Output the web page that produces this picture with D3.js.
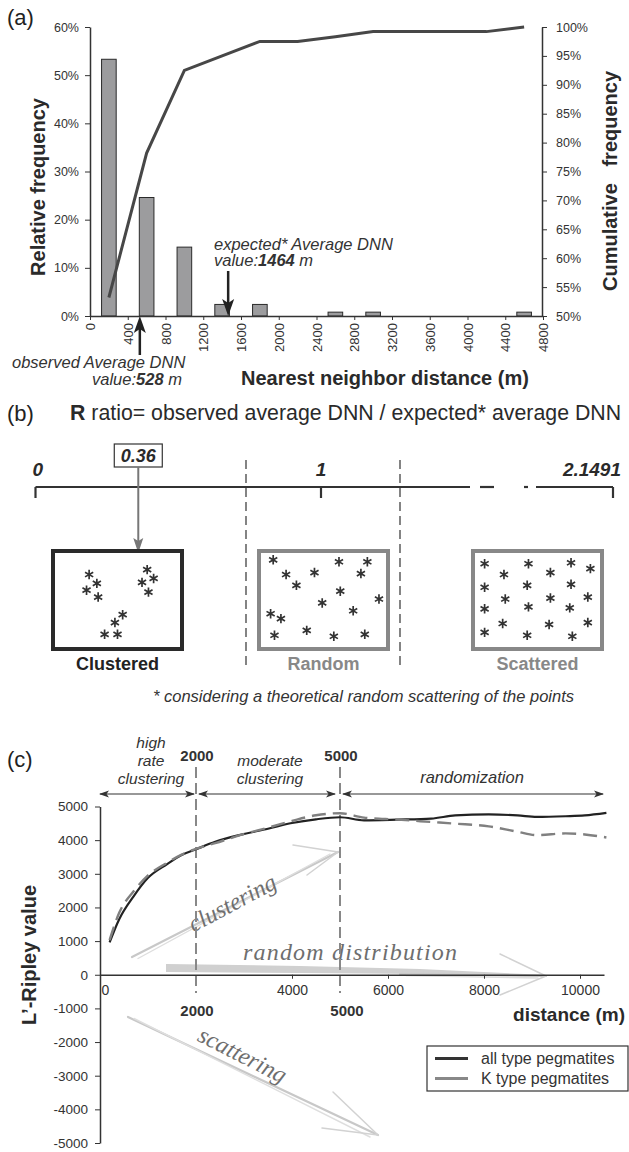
<!DOCTYPE html>
<html lang="en">
<head>
<meta charset="UTF-8">
<title>DNN histogram, R ratio and L'-Ripley</title>
<style>
  body { margin: 0; background: #fff; }
  svg { display: block; font-family: 'Liberation Sans', Arial, sans-serif; }
  .tick text { fill: #333; }
  .tick line, .domain { stroke: #333; }
</style>
</head>
<body>
<div id="chart"></div>
<script src="https://d3js.org/d3.v7.min.js"></script>
<script>
// ---- (a) nearest neighbour distance histogram
var binCenters = [200, 600, 1000, 1400, 1800, 2600, 3000, 4600];
var relFreq    = [53.3, 24.6, 14.3, 2.4, 2.4, 0.8, 0.8, 0.8];
var cumDist    = [200, 600, 1000, 1400, 1800, 2200, 2600, 3000, 3400, 3800, 4200, 4600];
var cumFreq    = [53.2, 78.2, 92.5, 95.0, 97.5, 97.5, 98.3, 99.2, 99.2, 99.2, 99.2, 100];
var distTicks  = d3.range(0, 4801, 400);
var relTicks   = [0, 10, 20, 30, 40, 50, 60];
var cumTicks   = d3.range(50, 101, 5);
var observedDNN = 528, expectedDNN = 1464;

// ---- (b) R ratio scale
var rObserved = 0.36;
var rLabels = ['0', '1', '2.1491'];
var patterns = ['Clustered', 'Random', 'Scattered'];
// star positions inside each box, as fractions of the box
var clusteredPts = [[.28,.24],[.34,.33],[.26,.40],[.35,.47],[.73,.19],[.69,.32],[.78,.28],[.74,.42],[.54,.65],[.48,.73],[.40,.85],[.50,.85]];
var randomPts = [[.11,.09],[.62,.11],[.84,.11],[.21,.24],[.43,.22],[.79,.23],[.29,.35],[.63,.41],[.93,.49],[.49,.53],[.09,.64],[.17,.69],[.73,.61],[.12,.86],[.37,.81],[.58,.87],[.82,.85]];
var scatteredPts = [[.09,.13],[.43,.13],[.76,.12],[.91,.18],[.24,.24],[.60,.22],[.09,.37],[.42,.35],[.76,.34],[.25,.49],[.60,.48],[.89,.47],[.09,.59],[.43,.57],[.75,.58],[.23,.74],[.59,.75],[.89,.73],[.09,.83],[.42,.86],[.77,.87]];

// ---- (c) L'-Ripley
var ripleyDist = [200, 400, 700, 1000, 1400, 1700, 2000, 2400, 2900, 3500, 4000, 4500, 5000, 5500, 6200, 6900, 7400, 8100, 8700, 9100, 9700, 10100, 10550];
var ripleyAll  = [960, 1650, 2330, 2880, 3290, 3560, 3730, 3950, 4150, 4340, 4510, 4620, 4680, 4590, 4610, 4640, 4735, 4765, 4735, 4690, 4710, 4735, 4810];
var ripleyK    = [1030, 1840, 2480, 2950, 3330, 3570, 3740, 3910, 4140, 4370, 4570, 4740, 4800, 4670, 4610, 4540, 4490, 4410, 4250, 4150, 4200, 4170, 4080];
var ripleyYTicks = d3.range(-5000, 5001, 1000);
var ripleyXTicks = [0, 4000, 6000, 8000, 10000];
var thresholds = [2000, 5000];
var legendNames = ['all type pegmatites', 'K type pegmatites'];

var width = 629, height = 1152;
var svg = d3.select('#chart').append('svg')
  .attr('width', width).attr('height', height);

var defs = svg.append('defs');
defs.append('marker').attr('id', 'head')
  .attr('viewBox', '0 -4 10 8').attr('refX', 9).attr('refY', 0)
  .attr('markerWidth', 10).attr('markerHeight', 8).attr('markerUnits', 'userSpaceOnUse')
  .attr('orient', 'auto-start-reverse')
  .append('path').attr('d', 'M0,-3.5L10,0L0,3.5L2.5,0Z').attr('fill', '#333');

function panelLabel(txt, x, y) {
  svg.append('text').attr('x', x).attr('y', y).attr('font-size', 22).attr('fill', '#222').text(txt);
}

// =================== (a)
panelLabel('(a)', 7, 25);
var xA = d3.scaleLinear().domain([0, 4800]).range([90, 543]);
var yA = d3.scaleLinear().domain([0, 60]).range([316, 27]);
var yCum = d3.scaleLinear().domain([50, 100]).range([316, 27]);
var barW = 155;

var gA = svg.append('g');
gA.selectAll('rect.bar').data(binCenters).enter().append('rect')
  .attr('x', function(d) { return xA(d - barW / 2); })
  .attr('width', xA(barW) - xA(0))
  .attr('y', function(d, i) { return yA(relFreq[i]); })
  .attr('height', function(d, i) { return yA(0) - yA(relFreq[i]); })
  .attr('fill', '#9c9c9e').attr('stroke', '#2a2a2a').attr('stroke-width', 1);

gA.append('path')
  .datum(cumDist)
  .attr('fill', 'none').attr('stroke', '#474747').attr('stroke-width', 3)
  .attr('d', d3.line()
    .x(function(d) { return xA(d); })
    .y(function(d, i) { return yCum(cumFreq[i]); }));

var pct = function(d) { return d + '%'; };
var axL = gA.append('g').attr('transform', 'translate(90,0)')
  .call(d3.axisLeft(yA).tickValues(relTicks).tickFormat(pct)
    .tickSize(5).tickPadding(6).tickSizeOuter(0));
axL.selectAll('text').attr('font-size', 12.5);

var axR = gA.append('g').attr('transform', 'translate(542,0)')
  .call(d3.axisRight(yCum).tickValues(cumTicks).tickFormat(pct)
    .tickSize(5).tickPadding(9).tickSizeOuter(0));
axR.selectAll('text').attr('font-size', 12.5);

var axB = gA.append('g').attr('transform', 'translate(0,316)')
  .call(d3.axisBottom(xA).tickValues(distTicks).tickFormat(function(d) { return String(d); })
    .tickSize(4).tickSizeOuter(0));
axB.selectAll('text')
  .attr('font-size', 13).attr('transform', 'rotate(-90)')
  .attr('x', -7).attr('y', 0).attr('dy', '0.35em').attr('text-anchor', 'end');
gA.selectAll('.domain').attr('stroke-width', 1.5);

gA.append('text').attr('transform', 'translate(45,187) rotate(-90)')
  .attr('text-anchor', 'middle').attr('font-size', 20).attr('font-weight', 'bold').attr('fill', '#2a2a2a')
  .text('Relative frequency');
gA.append('text').attr('transform', 'translate(617,181) rotate(-90)')
  .attr('text-anchor', 'middle').attr('font-size', 20).attr('font-weight', 'bold').attr('fill', '#2a2a2a')
  .attr('xml:space', 'preserve').style('white-space', 'pre')
  .text('Cumulative   frequency');
gA.append('text').attr('x', 241).attr('y', 385)
  .attr('font-size', 20).attr('font-weight', 'bold').attr('fill', '#2a2a2a')
  .text('Nearest neighbor distance (m)');

// DNN arrows
function dnnArrow(v, yEnd) {
  var x = xA(v), dir = yEnd < 316 ? -1 : 1;
  gA.append('line').attr('x1', x).attr('x2', x).attr('y1', yEnd).attr('y2', 316 + dir * 12)
    .attr('stroke', '#222').attr('stroke-width', 2.5);
  gA.append('path')
    .attr('d', 'M' + x + ',316L' + (x - 6) + ',' + (316 + dir * 17) + 'L' + x + ',' + (316 + dir * 13) +
      'L' + (x + 6) + ',' + (316 + dir * 17) + 'Z')
    .attr('fill', '#222');
}
dnnArrow(expectedDNN, 271);
dnnArrow(observedDNN, 355);

var ann1 = gA.append('g').attr('font-size', 16.5).attr('font-style', 'italic').attr('fill', '#333');
ann1.append('text').attr('x', 214).attr('y', 250).text('expected* Average DNN');
var t1 = ann1.append('text').attr('x', 214).attr('y', 266);
t1.append('tspan').text('value:');
t1.append('tspan').attr('font-weight', 'bold').text(expectedDNN);
t1.append('tspan').text(' m');
ann1.append('text').attr('x', 12).attr('y', 368).text('observed Average DNN');
var t2 = ann1.append('text').attr('x', 92).attr('y', 385);
t2.append('tspan').text('value:');
t2.append('tspan').attr('font-weight', 'bold').text(observedDNN);
t2.append('tspan').text(' m');

// =================== (b)
panelLabel('(b)', 7, 421);
var tb = svg.append('text').attr('x', 70).attr('y', 420).attr('font-size', 21.3).attr('fill', '#2a2a2a');
tb.append('tspan').attr('font-weight', 'bold').text('R');
tb.append('tspan').text(' ratio= observed average DNN / expected* average DNN');

var xRr = d3.scaleLinear().domain([0, 1]).range([35.5, 321]);
var rEndX = 613, lineY = 487;
var gB = svg.append('g');
// broken scale line
[[xRr(0), 470], [480, 494], [524, 528], [536, rEndX]].forEach(function(s) {
  gB.append('line').attr('x1', s[0]).attr('x2', s[1]).attr('y1', lineY).attr('y2', lineY)
    .attr('stroke', '#333').attr('stroke-width', 2.2);
});
[xRr(0), xRr(1), rEndX].forEach(function(x) {
  gB.append('line').attr('x1', x).attr('x2', x).attr('y1', lineY).attr('y2', lineY + 11)
    .attr('stroke', '#333').attr('stroke-width', 2.2);
});
var rl = gB.append('g').attr('font-size', 19).attr('font-weight', 'bold').attr('font-style', 'italic').attr('fill', '#2a2a2a');
rl.append('text').attr('x', xRr(0) - 3).attr('y', 476).text(rLabels[0]);
rl.append('text').attr('x', xRr(1)).attr('y', 476).attr('text-anchor', 'middle').text(rLabels[1]);
rl.append('text').attr('x', 621).attr('y', 476).attr('text-anchor', 'end').text(rLabels[2]);

// observed R box + arrow
var rx = xRr(rObserved);
gB.append('rect').attr('x', rx - 24).attr('y', 444).attr('width', 48).attr('height', 23)
  .attr('fill', '#fff').attr('stroke', '#333').attr('stroke-width', 1.2);
gB.append('text').attr('x', rx).attr('y', 462).attr('text-anchor', 'middle')
  .attr('font-size', 18).attr('font-weight', 'bold').attr('font-style', 'italic').attr('fill', '#2a2a2a')
  .text(rObserved.toFixed(2));
gB.append('line').attr('x1', rx).attr('x2', rx).attr('y1', 467).attr('y2', 542)
  .attr('stroke', '#777').attr('stroke-width', 2);
gB.append('path').attr('d', 'M' + rx + ',553L' + (rx - 5) + ',538L' + rx + ',541L' + (rx + 5) + ',538Z')
  .attr('fill', '#777');

// dashed separators
[246, 400].forEach(function(x) {
  gB.append('line').attr('x1', x).attr('x2', x).attr('y1', 460).attr('y2', 668)
    .attr('stroke', '#333').attr('stroke-width', 1.2).attr('stroke-dasharray', '9,5');
});

var boxes = [
  {x: 53, pts: clusteredPts, stroke: '#2a2a2a', label: '#222'},
  {x: 259, pts: randomPts, stroke: '#888', label: '#888'},
  {x: 473, pts: scatteredPts, stroke: '#888', label: '#888'}
];
var bw = 129, bh = 98, by = 551;
var star = d3.symbol().type(d3.symbolAsterisk).size(62);
boxes.forEach(function(b, i) {
  gB.append('rect').attr('x', b.x).attr('y', by).attr('width', bw).attr('height', bh)
    .attr('fill', '#fff').attr('stroke', b.stroke).attr('stroke-width', 4);
  var sx = d3.scaleLinear().domain([0, 1]).range([b.x, b.x + bw]);
  var sy = d3.scaleLinear().domain([0, 1]).range([by, by + bh]);
  gB.selectAll('path.star' + i).data(b.pts).enter().append('path')
    .attr('transform', function(d) { return 'translate(' + sx(d[0]) + ',' + sy(d[1]) + ')'; })
    .attr('d', star).attr('fill', 'none').attr('stroke', '#333').attr('stroke-width', 1.7);
  gB.append('text').attr('x', b.x + bw / 2).attr('y', 670).attr('text-anchor', 'middle')
    .attr('font-size', 18).attr('font-weight', 'bold').attr('fill', b.label).text(patterns[i]);
});
gB.append('text').attr('x', 153).attr('y', 702)
  .attr('font-size', 16.5).attr('font-style', 'italic').attr('fill', '#333')
  .text('* considering a theoretical random scattering of the points');

// =================== (c)
panelLabel('(c)', 7, 767);
var xR = d3.scaleLinear().domain([0, 10500]).range([100, 604]);
var yR = d3.scaleLinear().domain([-5000, 5000]).range([1143, 806.5]);
var gC = svg.append('g');

// sketched trend arrows
function sketch(x1, y1, x2, y2, b1, b2) {
  var g = gC.append('g').attr('stroke-linecap', 'round').attr('fill', 'none');
  g.append('line').attr('x1', x1).attr('y1', y1).attr('x2', x2).attr('y2', y2)
    .attr('stroke', '#c8c8c8').attr('stroke-width', 2.2);
  g.append('line').attr('x1', x1 + 6).attr('y1', y1 + 1.5).attr('x2', x2 - 8).attr('y2', y2 + 2)
    .attr('stroke', '#dedede').attr('stroke-width', 1.4);
  [b1, b2].forEach(function(b) {
    g.append('line').attr('x1', b[0]).attr('y1', b[1]).attr('x2', x2).attr('y2', y2)
      .attr('stroke', '#d2d2d2').attr('stroke-width', 1.5);
  });
}
sketch(132, 957, 338, 852, [293, 845], [307, 875]);
sketch(128, 1017, 378, 1135, [333, 1092], [322, 1128]);
// random band
gC.append('path').attr('d', 'M167,965L300,967L420,970L546,976L420,973L300,972L167,971Z')
  .attr('fill', '#d0d0d0').attr('stroke', '#d0d0d0').attr('stroke-width', 2);
sketch(400, 974, 546, 976, [500, 954], [500, 995]);

var hand = gC.append('g').attr('font-family', "'Liberation Serif', serif").attr('font-style', 'italic')
  .attr('fill', '#6e6e6e').attr('font-size', 24);
hand.append('text').attr('transform', 'translate(236,910) rotate(-28)').attr('text-anchor', 'middle').text('clustering');
hand.append('text').attr('x', 243).attr('y', 960).attr('textLength', 214).text('random distribution');
hand.append('text').attr('transform', 'translate(239,1062) rotate(27)').attr('text-anchor', 'middle').text('scattering');

// threshold dashed lines
thresholds.forEach(function(t) {
  gC.append('line').attr('x1', xR(t)).attr('x2', xR(t)).attr('y1', 767).attr('y2', 993)
    .attr('stroke', '#888').attr('stroke-width', 2).attr('stroke-dasharray', '11,5');
});

// axes
var cy = gC.append('g').attr('transform', 'translate(100,0)')
  .call(d3.axisLeft(yR).tickValues(ripleyYTicks).tickFormat(function(d) { return String(d); })
    .tickSize(5).tickPadding(7).tickSizeOuter(0));
cy.selectAll('text').attr('font-size', 13.5);
var cx = gC.append('g').attr('transform', 'translate(0,' + yR(0) + ')')
  .call(d3.axisBottom(xR).tickValues(ripleyXTicks).tickFormat(function(d) { return String(d); })
    .tickSize(4).tickPadding(6).tickSizeOuter(0));
cx.selectAll('text').attr('font-size', 14).attr('dx', function(d) { return d === 0 ? 5 : 0; });
cx.select('.tick line').remove();
gC.selectAll('.domain').attr('stroke-width', 1.5);

// curves
var ripLine = d3.line().curve(d3.curveMonotoneX)
  .x(function(d) { return xR(d); });
gC.append('path').datum(ripleyDist)
  .attr('fill', 'none').attr('stroke', '#222').attr('stroke-width', 2.2)
  .attr('d', ripLine.y(function(d, i) { return yR(ripleyAll[i]); }));
gC.append('path').datum(ripleyDist)
  .attr('fill', 'none').attr('stroke', '#808080').attr('stroke-width', 2.4).attr('stroke-dasharray', '14,7')
  .attr('d', ripLine.y(function(d, i) { return yR(ripleyK[i]); }));

// range arrows
[[100, 194], [199, 335], [343, 603]].forEach(function(r) {
  gC.append('line').attr('x1', r[0]).attr('x2', r[1]).attr('y1', 794).attr('y2', 794)
    .attr('stroke', '#333').attr('stroke-width', 1.2)
    .attr('marker-start', 'url(#head)').attr('marker-end', 'url(#head)');
});
var it = gC.append('g').attr('font-size', 15.5).attr('font-style', 'italic').attr('fill', '#333')
  .attr('text-anchor', 'middle');
it.append('text').attr('x', 151).attr('y', 748).text('high');
it.append('text').attr('x', 151).attr('y', 766).text('rate');
it.append('text').attr('x', 151).attr('y', 784).text('clustering');
it.append('text').attr('x', 270).attr('y', 766).text('moderate');
it.append('text').attr('x', 270).attr('y', 784).text('clustering');
it.append('text').attr('x', 472).attr('y', 783).attr('font-size', 16.5).text('randomization');

var bt = gC.append('g').attr('font-size', 15).attr('font-weight', 'bold').attr('fill', '#333')
  .attr('text-anchor', 'middle');
thresholds.forEach(function(t) {
  bt.append('text').attr('x', xR(t) + 1).attr('y', 761).text(t);
  bt.append('text').attr('x', xR(t) + (t === 5000 ? 7 : 1)).attr('y', 1016).text(t);
});

gC.append('text').attr('transform', 'translate(36,955) rotate(-90)').attr('text-anchor', 'middle')
  .attr('font-size', 20).attr('font-weight', 'bold').attr('fill', '#2a2a2a').text('L’-Ripley value');
gC.append('text').attr('x', 625).attr('y', 1021).attr('text-anchor', 'end')
  .attr('font-size', 19).attr('font-weight', 'bold').attr('fill', '#2a2a2a').text('distance (m)');

// legend
var lg = gC.append('g');
lg.append('rect').attr('x', 427).attr('y', 1046).attr('width', 201).attr('height', 45)
  .attr('fill', '#fff').attr('stroke', '#333').attr('stroke-width', 1.2);
['#333', '#888'].forEach(function(c, i) {
  lg.append('line').attr('x1', 435).attr('x2', 468).attr('y1', 1058.5 + i * 20).attr('y2', 1058.5 + i * 20)
    .attr('stroke', c).attr('stroke-width', 3);
  lg.append('text').attr('x', 481).attr('y', 1063.5 + i * 20).attr('font-size', 16).attr('fill', '#333')
    .text(legendNames[i]);
});
</script>
</body>
</html>
